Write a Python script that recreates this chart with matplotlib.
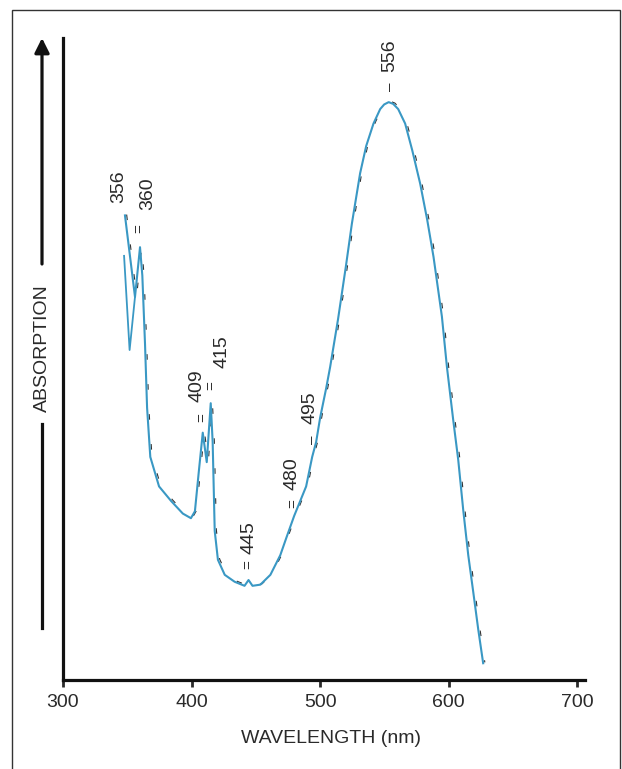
"""Absorption spectrum with labelled band positions (recreated figure)."""

import matplotlib

matplotlib.use("Agg")
import matplotlib.pyplot as plt
import matplotlib.transforms as mtransforms
from matplotlib.lines import Line2D
from matplotlib.patches import Rectangle

# Main trace: wavelength (nm) and relative absorption (peak = 1)
wavelength = [
    348.2, 356.0, 359.9, 361.7, 363.8, 365.4, 367.9, 374.7, 384.0, 393.2,
    399.5, 402.6, 405.6, 408.7, 411.8, 414.9, 416.4, 418.0, 420.5, 425.8,
    433.5, 441.2, 444.3, 447.4, 453.5, 461.3, 469.0, 473.7, 479.8, 489.1,
    493.8, 496.9, 500.0, 504.7, 507.8, 513.9, 520.1, 524.7, 531.1, 535.8,
    541.5, 546.7, 549.8, 553.3, 556.8, 560.7, 566.1, 571.6, 577.8, 583.3,
    588.2, 594.7, 598.6, 603.5, 607.4, 611.3, 615.2, 619.1, 623.0, 626.8,
]
absorption = [
    0.804, 0.663, 0.749, 0.700, 0.581, 0.471, 0.386, 0.335, 0.310, 0.288,
    0.280, 0.292, 0.360, 0.428, 0.377, 0.479, 0.412, 0.258, 0.208, 0.182,
    0.170, 0.163, 0.173, 0.163, 0.165, 0.182, 0.216, 0.246, 0.284, 0.335,
    0.386, 0.412, 0.454, 0.505, 0.542, 0.624, 0.717, 0.790, 0.877, 0.924,
    0.963, 0.988, 0.996, 1.000, 0.997, 0.988, 0.963, 0.917, 0.859, 0.796,
    0.732, 0.629, 0.542, 0.450, 0.381, 0.294, 0.216, 0.152, 0.087, 0.029,
]

# Short second trace at the start of the scan
wavelength_b = [347.5, 351.8, 356.0]
absorption_b = [0.734, 0.571, 0.663]

# Band labels (text centre) and their marks
band_labels = ["356", "360", "409", "415", "445", "480", "495", "556"]
band_label_x = [343.6, 366.1, 404.6, 423.7, 444.7, 478.2, 492.2, 554.5]
band_label_y = [0.853, 0.841, 0.510, 0.569, 0.247, 0.358, 0.471, 1.080]
mark_text = ["=", "=", "=", "=", "=", "–", "–"]
mark_x = [359.1, 408.2, 415.6, 444.0, 479.0, 493.8, 554.5]
mark_y = [0.782, 0.455, 0.509, 0.199, 0.305, 0.415, 1.026]

x_ticks = [300, 400, 500, 600, 700]

W, H = 622, 769
plt.rcParams["font.family"] = ["Liberation Sans", "DejaVu Sans"]

fig = plt.figure(figsize=(W / 100, H / 100), dpi=100)


def fx(px):
    return px / W


def fy(py):
    return 1 - py / H


ax = fig.add_axes([fx(63), 89 / H, 522 / W, 642 / H])

blue = "#3a98c4"
ax.plot(wavelength, absorption, color=blue, lw=1.5, zorder=3)
ax.plot(wavelength_b, absorption_b, color=blue, lw=1.3, zorder=3)

# faint broken black trace sitting just beside the blue one
shift = mtransforms.offset_copy(ax.transData, fig=fig, x=1.2, y=0.6, units="points")
ax.plot(wavelength, absorption, color="#333333", lw=0.8, dashes=(5, 22),
        transform=shift, zorder=2)

for txt, x, y in zip(band_labels, band_label_x, band_label_y):
    ax.text(x, y, txt, rotation=90, ha="center", va="center",
            fontsize=14, color="#2a2a2a")
for txt, x, y in zip(mark_text, mark_x, mark_y):
    ax.text(x, y, txt, rotation=90, ha="center", va="center",
            fontsize=11, color="#2a2a2a")

ax.set_xlim(300, 706)
ax.set_ylim(0, 1.111)
ax.set_xticks(x_ticks)
ax.set_yticks([])
ax.tick_params(axis="x", direction="out", length=5, width=2, pad=5,
               labelsize=14, colors="#2a2a2a")
for side in ("top", "right"):
    ax.spines[side].set_visible(False)
for side in ("left", "bottom"):
    ax.spines[side].set_linewidth(2.3)
    ax.spines[side].set_color("#111111")

ax.set_xlabel("WAVELENGTH (nm)", fontsize=14, color="#2a2a2a")
ax.xaxis.set_label_coords(0.513, -0.078)

# absorption arrow on the left, broken by its label
fig.text(fx(42.5), fy(348.5), "ABSORPTION", rotation=90, ha="center",
         va="center", fontsize=14, color="#2a2a2a")
ax.annotate("", xy=(fx(42), fy(38)), xytext=(fx(42), fy(264)),
            xycoords="figure fraction", textcoords="figure fraction",
            arrowprops=dict(arrowstyle="-|>", lw=2.3, color="#111111",
                            mutation_scale=22, shrinkA=0, shrinkB=0))
fig.add_artist(Line2D([fx(42), fx(42)], [fy(424), fy(628)],
                      transform=fig.transFigure, lw=2.3, color="#111111"))

# thin frame round the figure
fig.add_artist(Rectangle((fx(12), -0.01), fx(620) - fx(12), fy(10) + 0.01,
                         transform=fig.transFigure, fill=False,
                         lw=1.0, edgecolor="#333333"))

fig.savefig("out.png", dpi=100)
